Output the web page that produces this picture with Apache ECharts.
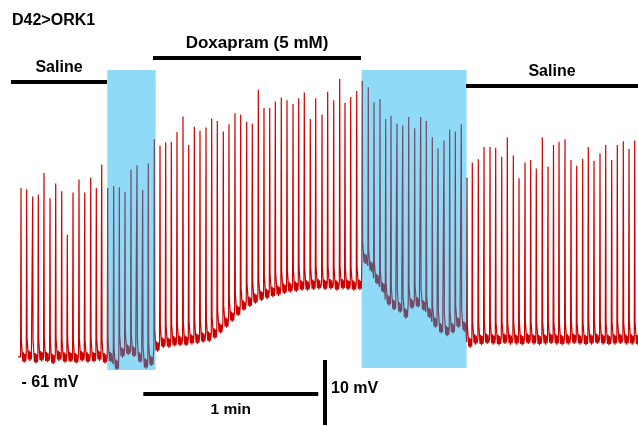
<!DOCTYPE html>
<html>
<head>
<meta charset="utf-8">
<script src="https://cdn.jsdelivr.net/npm/echarts@6/dist/echarts.min.js"></script>
<style>
  html, body { margin: 0; padding: 0; background: #fff; }
  #chart { width: 638px; height: 426px; }
</style>
</head>
<body>
<div id="chart"></div>
<script>
// Spike times (s), spike peak potentials (mV) and the resting level under each spike (mV)
const spikeTimes = [1.03,2.98,5.04,6.96,8.91,10.97,12.93,14.98,16.90,18.86,20.91,22.87,24.93,26.85,28.70,
  30.75,32.81,34.73,36.69,38.74,40.80,42.75,44.67,46.73,48.69,50.64,52.56,54.51,56.57,58.53,60.45,62.40,
  64.46,66.41,68.33,70.39,72.34,74.40,76.35,78.41,80.33,82.39,84.34,86.30,88.22,90.27,92.23,94.29,96.24,
  98.16,100.22,102.07,104.23,106.18,108.24,110.30,112.11,114.07,116.13,118.05,120.10,122.06,124.11,126.07,
  127.89,129.94,131.90,133.95,136.01,138.07,139.99,142.05,144.00,146.06,148.01,149.93,151.99,153.94,155.76,
  157.82,159.77,161.83,163.78,165.84,167.76,169.82,171.77,173.83,175.78,177.70,179.76,181.71,183.60,185.49,
  187.54,189.60,191.55,193.61,195.53,197.49,199.54,201.50,203.55,205.47,207.53,209.49,211.44];

const spikePeaks = [-35.3,-35.5,-36.6,-36.3,-33.0,-36.9,-34.6,-35.8,-42.5,-36.0,
  -34.0,-36.0,-33.7,-35.3,-31.7,-35.3,-35.0,-35.2,-35.9,-32.5,
  -31.8,-35.6,-31.5,-27.8,-28.8,-28.3,-28.2,-26.7,-24.3,-28.7,
  -25.9,-26.5,-26.0,-24.6,-25.0,-26.6,-25.5,-23.8,-24.0,-25.1,
  -25.4,-20.2,-23.0,-23.0,-22.0,-21.4,-21.8,-22.4,-21.5,-20.6,
  -24.7,-21.5,-24.0,-20.5,-21.8,-18.5,-22.2,-21.3,-20.4,-18.8,
  -19.8,-22.1,-21.6,-24.7,-24.2,-25.4,-25.7,-24.4,-26.1,-24.4,
  -25.0,-27.5,-29.2,-28.0,-26.3,-26.6,-25.5,-33.7,-31.4,-30.9,
  -29.0,-29.0,-29.1,-30.5,-27.5,-30.3,-33.8,-31.4,-31.0,-32.3,
  -27.5,-32.0,-28.7,-28.2,-27.8,-31.0,-31.9,-30.8,-29.0,-31.1,
  -30.0,-28.7,-31.0,-28.7,-28.1,-29.3,-28.0];

const restLevel = [-61.3,-61.0,-61.4,-61.1,-61.2,-61.5,-61.0,-61.3,-61.2,-61.4,
  -61.1,-61.3,-61.2,-61.0,-61.4,-61.2,-62.4,-60.5,-60.1,-60.4,
  -61.3,-62.2,-61.8,-59.6,-59.0,-59.0,-58.8,-58.7,-58.7,-58.5,
  -58.4,-58.2,-58.1,-57.6,-56.8,-55.9,-55.0,-54.1,-53.3,-52.7,
  -52.2,-51.8,-51.5,-51.2,-51.0,-50.7,-50.5,-50.4,-50.2,-50.2,
  -50.1,-50.0,-50.1,-50.0,-50.2,-50.0,-50.1,-50.2,-50.1,-46.1,
  -47.3,-49.2,-50.5,-52.5,-53.2,-53.6,-54.5,-53.0,-52.8,-53.3,
  -54.4,-55.9,-56.8,-57.2,-56.8,-55.9,-56.5,-59.0,-58.5,-58.6,
  -58.4,-58.5,-58.6,-58.4,-58.5,-58.5,-58.6,-58.4,-58.5,-58.6,
  -58.5,-58.4,-58.5,-58.6,-58.5,-58.4,-58.5,-58.6,-58.5,-58.4,
  -58.5,-58.6,-58.5,-58.4,-58.5,-58.5,-58.6];

// Action-potential waveform after the peak: time from peak (s) and offset from rest (mV)
const apAfterTime = [0.12, 0.35, 0.6, 0.85, 1.1, 1.35, 1.6];
const apAfterOffset = [2.6, 1.1, -0.7, 0.7, -0.9, 0.5, -0.7];
const apRise = 0.15;

// Recording window and drug-application epochs (s)
const recordEnd = 212.57;
const salineBefore = [-2.40, 30.51];
const doxapram = [46.28, 117.60];
const salineAfter = [153.6, 212.57];
const washIn = [30.6, 47.2];
const washOut = [117.8, 153.8];

// Build the membrane-potential trace
const trace = [[0, restLevel[0]]];
for (let i = 0; i < spikeTimes.length; i++) {
  const t0 = spikeTimes[i];
  const rest = restLevel[i];
  const limit = i + 1 < spikeTimes.length ? spikeTimes[i + 1] - apRise : recordEnd;
  trace.push([t0 - apRise, rest]);
  trace.push([t0, spikePeaks[i]]);
  for (let k = 0; k < apAfterTime.length; k++) {
    const t = t0 + apAfterTime[k];
    if (t < limit) trace.push([t, rest + apAfterOffset[k]]);
  }
}
trace.push([recordEnd, restLevel[restLevel.length - 1]]);

const font = 'Liberation Sans, Arial, sans-serif';
const textStyle = (size) => ({ color: '#000', fontFamily: font, fontWeight: 'bold', fontSize: size });
const barLabel = (text, size) => Object.assign({
  show: true, formatter: text, position: 'insideMiddleTop', distance: 6
}, textStyle(size));

const chart = echarts.init(document.getElementById('chart'), null, { renderer: 'canvas' });
chart.setOption({
  animation: false,
  backgroundColor: '#fff',
  title: {
    text: 'D42>ORK1', left: 12, top: 13, padding: 0,
    textStyle: textStyle(16)
  },
  grid: { left: 0, right: 0, top: 0, bottom: 0 },
  xAxis: { type: 'value', min: -6.1714, max: recordEnd, show: false },
  yAxis: { type: 'value', min: -71.92, max: -6.385, show: false },
  series: [
    {
      name: 'Vm', type: 'line', z: 2, data: trace, showSymbol: false, clip: false,
      lineStyle: { color: '#cc0000', width: 1.2 }
    },
    {
      name: 'epochs', type: 'line', z: 5, data: [], silent: true,
      markArea: {
        silent: true, z: 10,
        itemStyle: { color: 'rgba(0,171,235,0.44)' },
        data: [
          [{ coord: [washIn[0], -63.3] }, { coord: [washIn[1], -17.15] }],
          [{ coord: [washOut[0], -63.0] }, { coord: [washOut[1], -17.15] }]
        ]
      }
    },
    {
      name: 'annotations', type: 'line', z: 6, data: [], silent: true,
      markLine: {
        silent: true, symbol: 'none', animation: false, z: 11,
        lineStyle: { color: '#000', width: 4, type: 'solid' },
        data: [
          [{ coord: [salineBefore[0], -18.95] }, { coord: [salineBefore[1], -18.95], label: barLabel('Saline', 16) }],
          [{ coord: [doxapram[0], -15.31] }, { coord: [doxapram[1], -15.31], label: barLabel('Doxapram (5 mM)', 17) }],
          [{ coord: [salineAfter[0], -19.62] }, { coord: [salineAfter[1], -19.62], label: barLabel('Saline', 16) }],
          [{ coord: [42.96, -66.89] }, { coord: [102.96, -66.89],
            label: Object.assign({ show: true, formatter: '1 min', position: 'insideMiddleBottom', distance: 8 }, textStyle(15.5)) }],
          [{ coord: [105.26, -61.77] }, { coord: [105.26, -71.77], label: { show: false } }]
        ]
      },
      markPoint: {
        silent: true, symbol: 'rect', symbolSize: 1, z: 11,
        itemStyle: { color: 'rgba(0,0,0,0)' },
        label: Object.assign({ show: true, position: 'inside' }, textStyle(16)),
        data: [
          { coord: [10.97, -65.31], value: '- 61 mV', label: { formatter: '- 61 mV' } },
          { coord: [115.4, -66.23], value: '10 mV', label: { formatter: '10 mV' } }
        ]
      }
    }
  ]
});
</script>
</body>
</html>
